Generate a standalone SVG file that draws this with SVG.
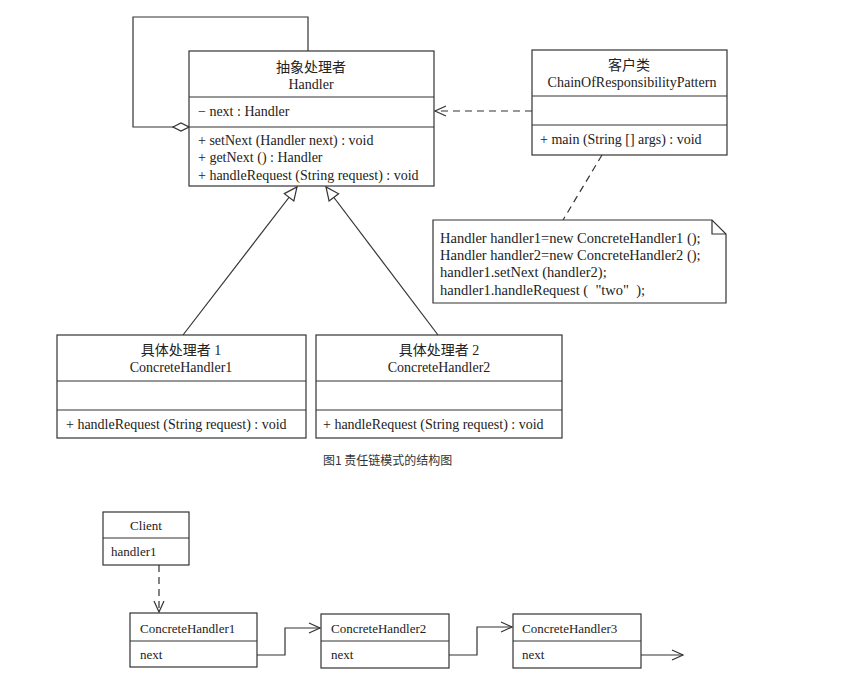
<svg xmlns="http://www.w3.org/2000/svg" width="842" height="676" viewBox="0 0 842 676">
<defs>
<style>
.box{fill:#fff;stroke:#333;stroke-width:1.2}
.ln{fill:none;stroke:#333;stroke-width:1.2}
.dash{fill:none;stroke:#333;stroke-width:1.2;stroke-dasharray:7 5}
.t{font-family:"Liberation Serif","Noto Sans CJK SC",serif;font-size:14px;fill:#222}
.s{font-size:13px}
.n{font-size:14.5px}
.c{text-anchor:middle}
.cap{font-family:"Noto Sans CJK SC","Liberation Sans",sans-serif;font-size:12px;fill:#333}
</style>
<marker id="open" markerWidth="14" markerHeight="12" refX="12" refY="6" orient="auto" markerUnits="userSpaceOnUse">
<path d="M1,1 L12,6 L1,11" fill="none" stroke="#333" stroke-width="1.2"/>
</marker>
<marker id="tri" markerWidth="16" markerHeight="14" refX="14" refY="7" orient="auto" markerUnits="userSpaceOnUse">
<path d="M1,1 L14,7 L1,13 Z" fill="#fff" stroke="#333" stroke-width="1.2"/>
</marker>
<marker id="dia" markerWidth="18" markerHeight="10" refX="17" refY="5" orient="auto" markerUnits="userSpaceOnUse">
<path d="M1,5 L9,1 L17,5 L9,9 Z" fill="#fff" stroke="#333" stroke-width="1.2"/>
</marker>
</defs>
<rect width="842" height="676" fill="#fff"/>

<g id="connectors">
<path class="ln" d="M308,51 V17 H133 V127 H189" marker-end="url(#dia)"/>
<path class="dash" d="M532,111 H435" marker-end="url(#open)"/>
<path class="dash" d="M602,155 L563,220"/>
<path class="ln" d="M183,335 L297,187" marker-end="url(#tri)"/>
<path class="ln" d="M438,335 L326,187" marker-end="url(#tri)"/>
<path class="dash" d="M159,565 V612" marker-end="url(#open)"/>
<path class="ln" d="M257,655 H285 V628 H320" marker-end="url(#open)"/>
<path class="ln" d="M449,655 H477 V627 H512" marker-end="url(#open)"/>
<path class="ln" d="M641,655 H683" marker-end="url(#open)"/>
</g>

<g id="handler">
<rect class="box" x="189" y="51" width="245" height="135"/>
<line class="ln" x1="189" y1="97" x2="434" y2="97"/>
<line class="ln" x1="189" y1="127" x2="434" y2="127"/>
<text class="t c" x="311" y="72">抽象处理者</text>
<text class="t c" x="311" y="89">Handler</text>
<text class="t" x="198" y="116">− next : Handler</text>
<text class="t" x="198" y="145">+ setNext (Handler next) : void</text>
<text class="t" x="198" y="162">+ getNext () : Handler</text>
<text class="t" x="198" y="180">+ handleRequest (String request) : void</text>
</g>

<g id="client-class">
<rect class="box" x="532" y="50" width="195" height="105"/>
<line class="ln" x1="532" y1="96" x2="727" y2="96"/>
<line class="ln" x1="532" y1="125" x2="727" y2="125"/>
<text class="t c" x="629" y="70">客户类</text>
<text class="t c" x="632" y="87">ChainOfResponsibilityPattern</text>
<text class="t" x="540" y="144">+ main (String [] args) : void</text>
</g>

<g id="note">
<path class="box" d="M433,220 H712 L726,234 V303 H433 Z"/>
<path class="ln" d="M712,220 V234 H726"/>
<text class="t n" x="440" y="243">Handler handler1=new ConcreteHandler1 ();</text>
<text class="t n" x="440" y="260">Handler handler2=new ConcreteHandler2 ();</text>
<text class="t n" x="440" y="277">handler1.setNext (handler2);</text>
<text class="t n" x="440" y="295">handler1.handleRequest (&#160;&#160;"two"&#160;&#160;);</text>
</g>

<g id="concrete1">
<rect class="box" x="57" y="335" width="249" height="103"/>
<line class="ln" x1="57" y1="381" x2="306" y2="381"/>
<line class="ln" x1="57" y1="410" x2="306" y2="410"/>
<text class="t c" x="181" y="355">具体处理者 1</text>
<text class="t c" x="181" y="372">ConcreteHandler1</text>
<text class="t" x="66" y="429">+ handleRequest (String request) : void</text>
</g>

<g id="concrete2">
<rect class="box" x="316" y="335" width="246" height="103"/>
<line class="ln" x1="316" y1="381" x2="562" y2="381"/>
<line class="ln" x1="316" y1="410" x2="562" y2="410"/>
<text class="t c" x="439" y="355">具体处理者 2</text>
<text class="t c" x="439" y="372">ConcreteHandler2</text>
<text class="t" x="323" y="429">+ handleRequest (String request) : void</text>
</g>

<text class="cap" x="323" y="465">图1 责任链模式的结构图</text>

<g id="client">
<rect class="box" x="103" y="512" width="86" height="53"/>
<line class="ln" x1="103" y1="538" x2="189" y2="538"/>
<text class="t s c" x="146" y="530">Client</text>
<text class="t s" x="111" y="556">handler1</text>
</g>

<g id="ch1">
<rect class="box" x="130" y="613" width="127" height="54"/>
<line class="ln" x1="130" y1="641" x2="257" y2="641"/>
<text class="t s" x="140" y="633">ConcreteHandler1</text>
<text class="t s" x="140" y="659">next</text>
</g>

<g id="ch2">
<rect class="box" x="321" y="614" width="128" height="54"/>
<line class="ln" x1="321" y1="641" x2="449" y2="641"/>
<text class="t s" x="331" y="633">ConcreteHandler2</text>
<text class="t s" x="331" y="659">next</text>
</g>

<g id="ch3">
<rect class="box" x="513" y="614" width="128" height="54"/>
<line class="ln" x1="513" y1="641" x2="641" y2="641"/>
<text class="t s" x="522" y="633">ConcreteHandler3</text>
<text class="t s" x="522" y="659">next</text>
</g>
</svg>
